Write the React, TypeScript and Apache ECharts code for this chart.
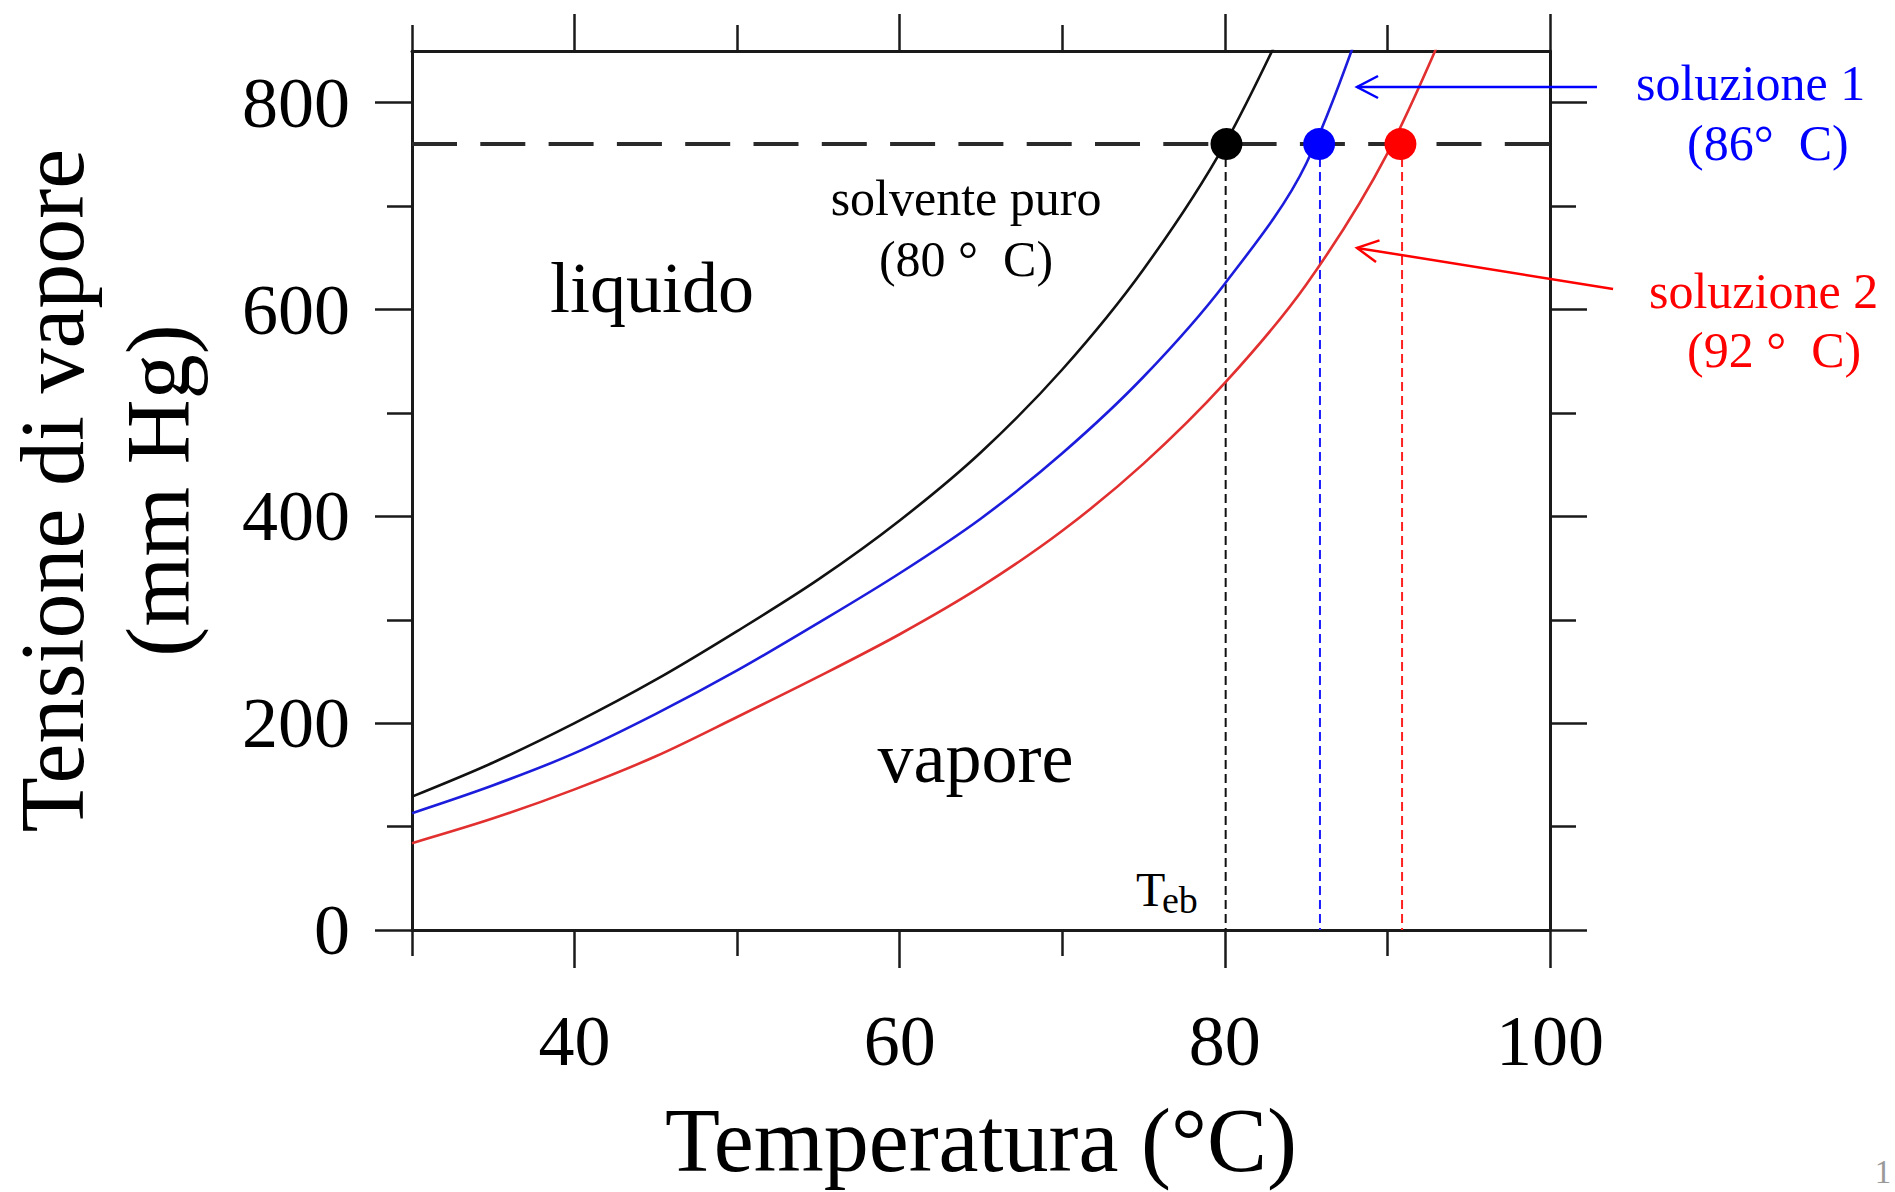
import React, { useEffect, useRef } from "react";
import * as echarts from "echarts";

const FONT = '"Liberation Serif", "Times New Roman", Times, serif';

// Axis ticks / labels
const xMajorTicks = [40, 60, 80, 100];
const xMinorTicks = [30, 50, 70, 90];
const yMajorTicks = [0, 200, 400, 600, 800];
const yMinorTicks = [100, 300, 500, 700];

// Vapour pressure curves (T in °C, P in mm Hg)
const tempSolvent = [30, 35, 40, 45, 50, 55, 60, 65, 70, 75, 80, 85];
const pressSolvent = [129, 162, 200, 242, 289, 339, 396, 462, 542, 639, 760, 920];

const tempSol1 = [30, 35, 40, 45, 50, 55, 60, 65, 70, 75, 80, 85, 90];
const pressSol1 = [113, 140, 171, 209, 251, 297, 345, 398, 461, 535, 625, 741, 951];

const tempSol2 = [30, 35, 40, 45, 50, 55, 60, 65, 70, 75, 80, 85, 90, 95];
const pressSol2 = [84, 108, 136, 168, 206, 245, 286, 332, 386, 451, 529, 624, 751, 926];

// Boiling points at 760 mm Hg
const boilingPressure = 760;
const boilingDotTemps = [80.1, 85.8, 90.8];
const boilingLineTemps = [80.05, 85.85, 90.9];

export default function App() {
  const ref = useRef<HTMLDivElement>(null);

  useEffect(() => {
    const chart = echarts.init(ref.current!, null, { renderer: "svg" });
    const axisColor = "#1a1a1a";
    const cBlack = "#111111";
    const cBlue = "#1c1cdc";
    const cRed = "#e22f2f";

    const mkX = (position: string, ticks: number[], len: number, showLine: boolean, withLabels: boolean, extra: any = {}) => ({
      type: "value",
      min: 30,
      max: 100,
      interval: 10,
      position,
      gridIndex: 0,
      axisLine: { show: showLine, onZero: false, lineStyle: { color: axisColor, width: 3 } },
      axisTick: { show: true, inside: false, customValues: ticks, length: len, lineStyle: { color: axisColor, width: 2.5 } },
      axisLabel: withLabels
        ? { show: true, customValues: xMajorTicks, margin: 75, color: "#000", fontFamily: FONT, fontSize: 72, lineHeight: 72 }
        : { show: false },
      splitLine: { show: false },
      ...extra,
    });

    const mkY = (position: string, ticks: number[], len: number, showLine: boolean, withLabels: boolean) => ({
      type: "value",
      min: 0,
      max: 850,
      interval: 100,
      position,
      gridIndex: 0,
      axisLine: { show: showLine, onZero: false, lineStyle: { color: axisColor, width: 3 } },
      axisTick: { show: true, inside: false, customValues: ticks, length: len, lineStyle: { color: axisColor, width: 2.5 } },
      axisLabel: withLabels
        ? { show: true, customValues: yMajorTicks, margin: 62, color: "#000", fontFamily: FONT, fontSize: 72 }
        : { show: false },
      splitLine: { show: false },
    });

    const curve = (name: string, ts: number[], ps: number[], color: string, extra: any = {}) => ({
      type: "line",
      name,
      xAxisIndex: 0,
      yAxisIndex: 0,
      data: ts.map((t, i) => [t, ps[i]]),
      smooth: 0.33,
      showSymbol: false,
      symbol: "none",
      clip: true,
      silent: true,
      lineStyle: { color, width: 2.6 },
      z: 3,
      ...extra,
    });

    const tebColors = [cBlack, "#1a1aff", "#ff2020"];
    const dotColors = ["#000000", "#0000ff", "#ff0000"];

    const option: any = {
      animation: false,
      backgroundColor: "#ffffff",
      grid: { left: 412, top: 51, width: 1138, height: 879, containLabel: false, outerBoundsMode: "none" },
      xAxis: [
        mkX("bottom", xMajorTicks, 38, true, true, {
          name: "Temperatura (°C)",
          nameLocation: "middle",
          nameGap: 165,
          nameMoveOverlap: false,
          nameTextStyle: { color: "#000", fontFamily: FONT, fontSize: 90, lineHeight: 90 },
        }),
        mkX("bottom", xMinorTicks, 26, false, false),
        mkX("top", xMajorTicks, 37, true, false),
        mkX("top", xMinorTicks, 26, false, false),
      ],
      yAxis: [
        {
          ...mkY("left", yMajorTicks, 37, true, true),
          name: "Tensione di vapore\n(mm Hg)",
          nameLocation: "middle",
          nameRotate: 90,
          nameGap: 201,
          nameMoveOverlap: false,
          nameTextStyle: { color: "#000", fontFamily: FONT, fontSize: 90, lineHeight: 106 },
        },
        mkY("left", yMinorTicks, 25, false, false),
        mkY("right", yMajorTicks, 37, true, false),
        mkY("right", yMinorTicks, 26, false, false),
      ],
      series: [
        curve("solvente puro", tempSolvent, pressSolvent, cBlack, {
          markLine: {
            silent: true,
            symbol: ["none", "none"],
            label: { show: false },
            emphasis: { disabled: true },
            lineStyle: { color: "#2a2a2a", width: 4, type: [45, 23.3], dashOffset: 0 },
            data: [{ yAxis: boilingPressure }],
          },
        }),
        curve("soluzione 1", tempSol1, pressSol1, cBlue),
        curve("soluzione 2", tempSol2, pressSol2, cRed),
        ...boilingLineTemps.map((t, i) => ({
          type: "line",
          name: "Teb " + (i + 1),
          xAxisIndex: 0,
          yAxisIndex: 0,
          data: [
            [t, boilingPressure],
            [t, 0],
          ],
          showSymbol: false,
          symbol: "none",
          silent: true,
          lineStyle: { color: tebColors[i], width: 2, type: [9, 5] },
          z: 2,
        })),
        {
          type: "scatter",
          name: "ebollizione",
          xAxisIndex: 0,
          yAxisIndex: 0,
          symbolSize: 32,
          silent: true,
          z: 10,
          itemStyle: { opacity: 1 },
          data: boilingDotTemps.map((t, i) => ({ value: [t, boilingPressure], itemStyle: { color: dotColors[i], opacity: 1 } })),
        },
      ],
    };

    chart.setOption(option);

    const P = (d: number[]) => chart.convertToPixel({ xAxisIndex: 0, yAxisIndex: 0 } as any, d) as number[];

    const textEl = (text: string, at: number[], size: number, color: string, align: string, lineHeight?: number) => {
      const [x, y] = P(at);
      return {
        type: "text",
        x,
        y,
        silent: true,
        z: 20,
        style: {
          text,
          font: `${size}px ${FONT}`,
          fill: color,
          align,
          textAlign: align,
          verticalAlign: "middle",
          textVerticalAlign: "middle",
          lineHeight: lineHeight ?? size,
        },
      };
    };

    const arrowEls = (from: number[], to: number[], color: string) => {
      const [x1, y1] = P(from);
      const [x2, y2] = P(to);
      const dx = x2 - x1;
      const dy = y2 - y1;
      const L = Math.hypot(dx, dy);
      const ux = dx / L;
      const uy = dy / L;
      const hl = 21;
      const hw = 11;
      const bx = x2 - ux * hl;
      const by = y2 - uy * hl;
      const a = [bx - uy * hw, by + ux * hw];
      const b = [bx + uy * hw, by - ux * hw];
      return [
        { type: "line", silent: true, z: 20, shape: { x1, y1, x2, y2 }, style: { stroke: color, lineWidth: 2.5 } },
        { type: "polyline", silent: true, z: 20, shape: { points: [a, [x2, y2], b] }, style: { stroke: color, lineWidth: 2.5, fill: "none" } },
      ];
    };

    const graphic: any[] = [
      textEl("liquido", [44.76, 620.8], 72, "#000", "center"),
      textEl("vapore", [64.66, 166.3], 72, "#000", "center"),
      textEl("solvente puro\n(80 °\u00a0\u00a0C)", [64.08, 678.4], 50, "#000", "center", 61),
      textEl("soluzione 1", [105.29, 819], 50, "#0000ff", "left"),
      textEl("(86°\u00a0\u00a0C)", [108.43, 761], 50, "#0000ff", "left"),
      textEl("soluzione 2", [106.09, 617.9], 50, "#ff0000", "left"),
      textEl("(92 °\u00a0\u00a0C)", [108.43, 560.9], 50, "#ff0000", "left"),
      textEl("T", [74.53, 39.6], 48, "#000", "left"),
      textEl("eb", [76.13, 29], 38, "#000", "left"),
      ...arrowEls([102.89, 815.2], [88.13, 815.2], "#0000ff"),
      ...arrowEls([103.88, 619.9], [88.13, 659.6], "#ff0000"),
      {
        type: "text",
        x: 1883,
        y: 1172,
        silent: true,
        style: { text: "1", font: `33px ${FONT}`, fill: "#9a9a9a", align: "center", textAlign: "center", verticalAlign: "middle", textVerticalAlign: "middle" },
      },
    ];

    chart.setOption({ graphic });

    return () => chart.dispose();
  }, []);

  return (
    <div
      ref={ref}
      style={{ position: "absolute", left: 0, top: 0, width: 1895, height: 1192, background: "#ffffff" }}
    />
  );
}
